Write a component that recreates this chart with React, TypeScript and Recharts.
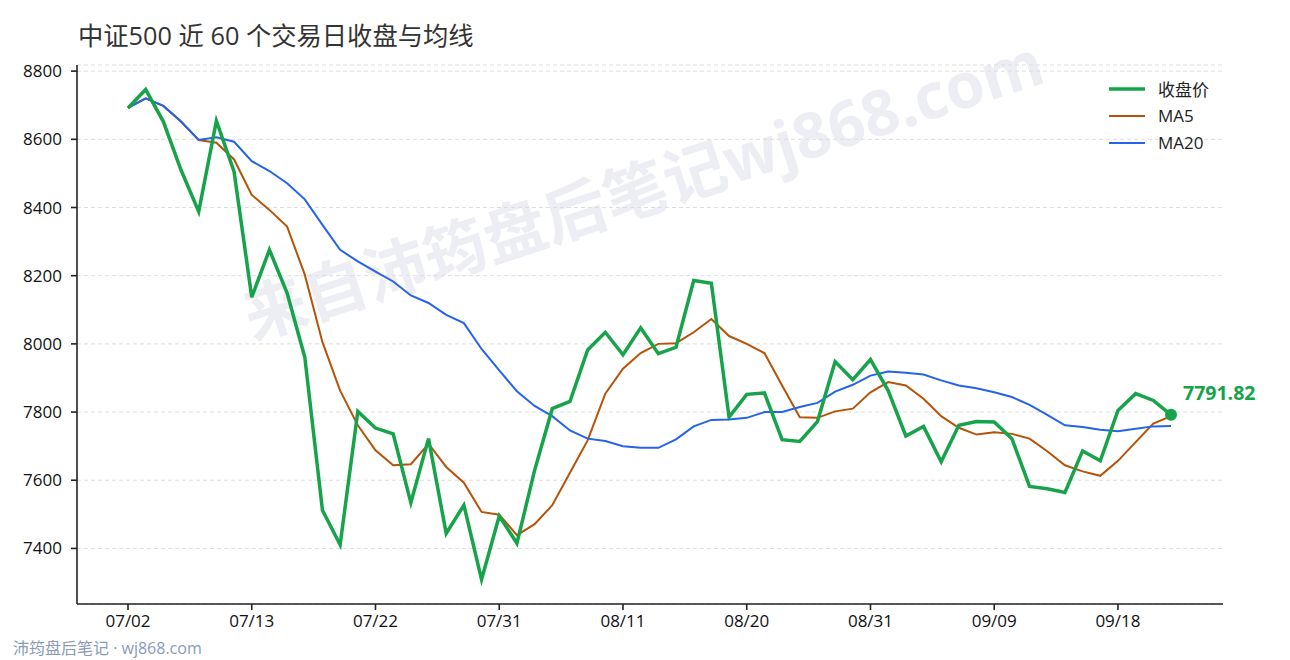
import React from 'react';
import { LineChart, Line, XAxis, YAxis, CartesianGrid } from 'recharts';

const dates = [
  '07/02', '07/03', '07/04', '07/07', '07/08', '07/09', '07/10', '07/13', '07/14', '07/15',
  '07/16', '07/17', '07/18', '07/21', '07/22', '07/23', '07/24', '07/25', '07/28', '07/29',
  '07/30', '07/31', '08/01', '08/04', '08/05', '08/06', '08/07', '08/08', '08/11', '08/12',
  '08/13', '08/14', '08/15', '08/18', '08/19', '08/20', '08/21', '08/22', '08/25', '08/26',
  '08/27', '08/28', '08/31', '09/01', '09/02', '09/03', '09/04', '09/05', '09/08', '09/09',
  '09/10', '09/11', '09/12', '09/15', '09/16', '09/17', '09/18', '09/19', '09/22', '09/23',
];

const closes = [
  8692, 8746, 8652, 8510, 8388, 8654, 8505, 8137, 8276, 8149,
  7961, 7512, 7411, 7802, 7753, 7736, 7534, 7722, 7444, 7527,
  7309, 7495, 7415, 7629, 7810, 7831, 7982, 8034, 7968, 8047,
  7971, 7990, 8186, 8178, 7785, 7852, 7856, 7719, 7714, 7772,
  7948, 7895, 7954, 7863, 7730, 7758, 7654, 7761, 7772, 7771,
  7722, 7582, 7575, 7564, 7686, 7657, 7805, 7854, 7834, 7791.82,
];

const ma5 = [
  8692, 8720, 8698, 8652, 8598, 8590, 8541, 8437, 8393, 8344,
  8203, 8005, 7863, 7761, 7688, 7644, 7647, 7707, 7639, 7593,
  7507, 7499, 7439, 7471, 7527, 7622, 7717, 7854, 7927, 7973,
  8000, 8002, 8034, 8073, 8023, 8000, 7973, 7878, 7785, 7783,
  7802, 7810, 7858, 7888, 7878, 7839, 7788, 7754, 7734, 7741,
  7736, 7722, 7685, 7644, 7626, 7613, 7657, 7712, 7766, 7788,
];

const ma20 = [
  8692, 8720, 8698, 8652, 8598, 8606, 8593, 8536, 8507, 8471,
  8424, 8349, 8276, 8242, 8212, 8183, 8142, 8120, 8085, 8061,
  7985, 7922, 7861, 7818, 7788, 7746, 7722, 7715, 7700, 7695,
  7695, 7720, 7758, 7777, 7778, 7783, 7800, 7800, 7815, 7827,
  7860, 7880, 7907, 7919, 7915, 7910, 7893, 7878, 7870, 7858,
  7844, 7821, 7792, 7761, 7756, 7748, 7744, 7751, 7758, 7759,
];

const yTicks = [7400, 7600, 7800, 8000, 8200, 8400, 8600, 8800];

const FONT = '"Open Sans", "Noto Sans CJK SC", sans-serif';
const GREEN = '#16a34a';
const ORANGE = '#b45309';
const BLUE = '#2563eb';

const data = dates.map((d, i) => ({ date: d, close: closes[i], ma5: ma5[i], ma20: ma20[i] }));

const legendItems = [
  { name: '收盘价', color: GREEN, width: 3.5 },
  { name: 'MA5', color: ORANGE, width: 2 },
  { name: 'MA20', color: BLUE, width: 2 },
];

const lastIndex = closes.length - 1;

// only the last close gets a dot and its value label
const renderLastDot = (props: any) => {
  const { cx, cy, index } = props;
  if (index !== lastIndex) return <g key={`d-${index}`} />;
  return (
    <g key={`d-${index}`}>
      <circle cx={cx} cy={cy} r={6} fill={GREEN} />
      <text
        x={cx + 12}
        y={cy - 20}
        dominantBaseline="middle"
        fill={GREEN}
        fontFamily={FONT}
        fontSize={19.5}
        fontWeight={700}
      >
        {closes[lastIndex].toFixed(2)}
      </text>
    </g>
  );
};

const axisTick = { fill: '#111', fontSize: 17, fontFamily: FONT };
const axisStroke = { stroke: '#222', strokeWidth: 1.6 };

export default function App() {
  return (
    <div
      style={{
        position: 'absolute',
        left: 0,
        top: 0,
        width: 1290,
        height: 660,
        background: '#fff',
        fontFamily: FONT,
        overflow: 'hidden',
      }}
    >
      <svg width={1290} height={660} style={{ position: 'absolute', left: 0, top: 0 }}>
        <text
          x={645}
          y={195}
          textAnchor="middle"
          dominantBaseline="middle"
          transform="rotate(-18 645 195)"
          fontFamily={FONT}
          fontSize={63}
          fontWeight={700}
          fill="#eceef3"
        >
          来自沛筠盘后笔记wj868.com
        </text>
      </svg>
      <div
        style={{
          position: 'absolute',
          left: 78,
          top: 19,
          fontSize: 25.3,
          color: '#333',
          lineHeight: '32px',
          whiteSpace: 'nowrap',
        }}
      >
        中证500 近 60 个交易日收盘与均线
      </div>
      <div style={{ position: 'absolute', left: 0, top: 0 }}>
        <LineChart width={1290} height={660} data={data} margin={{ top: 65, right: 67, bottom: 0, left: 0 }}>
          <CartesianGrid vertical={false} stroke="#dddddd" strokeDasharray="4 3" />
          <XAxis
            dataKey="date"
            interval={6}
            height={56}
            padding={{ left: 51, right: 52 }}
            tickSize={6}
            tickMargin={5}
            tick={axisTick}
            axisLine={axisStroke}
            tickLine={axisStroke}
          />
          <YAxis
            width={77}
            domain={[7237, 8818]}
            ticks={yTicks}
            allowDataOverflow
            tickSize={6}
            tickMargin={9}
            tick={axisTick}
            axisLine={axisStroke}
            tickLine={axisStroke}
          />
          <Line type="linear" dataKey="ma5" stroke={ORANGE} strokeWidth={2} dot={false} isAnimationActive={false} />
          <Line type="linear" dataKey="ma20" stroke={BLUE} strokeWidth={2} dot={false} isAnimationActive={false} />
          <Line
            type="linear"
            dataKey="close"
            stroke={GREEN}
            strokeWidth={3.5}
            dot={renderLastDot}
            activeDot={false}
            isAnimationActive={false}
          />
        </LineChart>
      </div>
      <div style={{ position: 'absolute', left: 1109, top: 75, fontSize: 17, color: '#222' }}>
        {legendItems.map((it) => (
          <div key={it.name} style={{ display: 'flex', alignItems: 'center', height: 27 }}>
            <svg width={36} height={10} style={{ marginRight: 13 }}>
              <line x1={0} x2={36} y1={5} y2={5} stroke={it.color} strokeWidth={it.width} />
            </svg>
            <span>{it.name}</span>
          </div>
        ))}
      </div>
      <div
        style={{
          position: 'absolute',
          left: 13,
          top: 637,
          fontSize: 16,
          color: '#8a9bb8',
          lineHeight: '22px',
          whiteSpace: 'nowrap',
        }}
      >
        沛筠盘后笔记 · wj868.com
      </div>
    </div>
  );
}
